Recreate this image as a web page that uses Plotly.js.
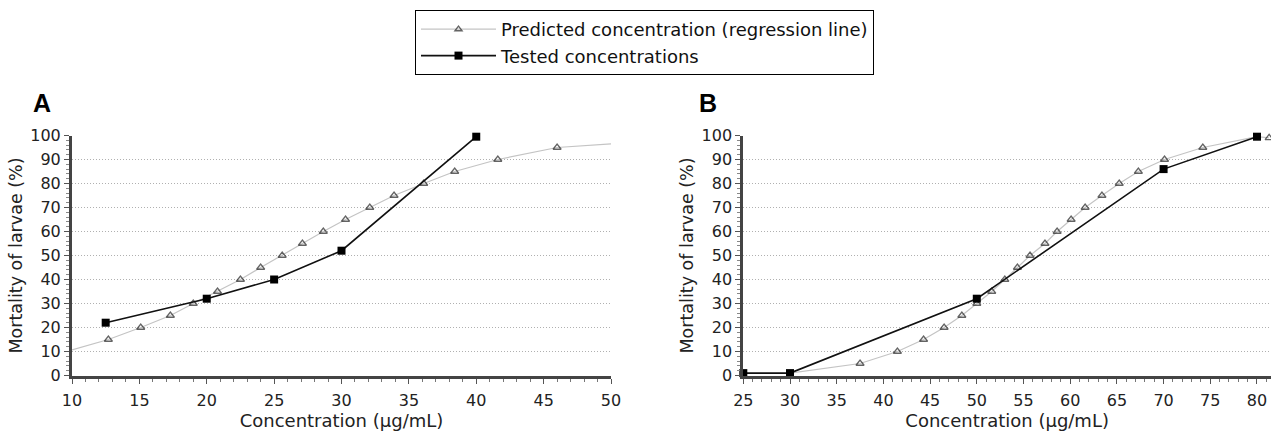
<!DOCTYPE html>
<html>
<head>
<meta charset="utf-8">
<script src="https://cdn.plot.ly/plotly-3.0.1.min.js"></script>
<style>html,body{margin:0;padding:0;background:#fff;}#chart{width:1271px;height:431px;}</style>
</head>
<body>
<div id="chart"></div>
<script>
// Panel A – predicted (regression line)
var predA_x = [10, 12.7, 15.1, 17.3, 19.0, 20.8, 22.5, 24.0, 25.6, 27.1, 28.65, 30.3, 32.1, 33.9, 36.1, 38.4, 41.6, 46.0, 50];
var predA_y = [10.7, 15, 20, 25, 30, 35, 40, 45, 50, 55, 60, 65, 70, 75, 80, 85, 90, 95, 96.5];
var predA_marked = [0, 1, 1, 1, 1, 1, 1, 1, 1, 1, 1, 1, 1, 1, 1, 1, 1, 1, 0];
// Panel A – tested concentrations
var testA_x = [12.5, 20, 25, 30, 40];
var testA_y = [22, 32, 40, 52, 99.5];

// Panel B – predicted (regression line)
var predB_x = [30, 37.5, 41.5, 44.3, 46.5, 48.4, 50.0, 51.6, 53.0, 54.35, 55.7, 57.3, 58.6, 60.1, 61.6, 63.4, 65.25, 67.3, 70.1, 74.2, 80, 81.3];
var predB_y = [1, 5, 10, 15, 20, 25, 30, 35, 40, 45, 50, 55, 60, 65, 70, 75, 80, 85, 90, 95, 99.5, 99];
var predB_marked = [0, 1, 1, 1, 1, 1, 1, 1, 1, 1, 1, 1, 1, 1, 1, 1, 1, 1, 1, 1, 0, 1];
// Panel B – tested concentrations
var testB_x = [25, 30, 50, 70, 80];
var testB_y = [1, 1, 32, 86, 99.5];

var yTicks = [0, 10, 20, 30, 40, 50, 60, 70, 80, 90, 100];
var legendNames = ["Predicted concentration (regression line)", "Tested concentrations"];
var xTitle = "Concentration (μg/mL)";
var yTitle = "Mortality of larvae (%)";

var FONT = "DejaVu Sans, Verdana, sans-serif";

function sizes(arr, s) { return arr.map(function (m) { return m ? s : 0; }); }

function predTrace(x, y, marked, xa, ya, show) {
  return {
    x: x, y: y, xaxis: xa, yaxis: ya, type: "scatter", mode: "lines+markers",
    name: legendNames[0], showlegend: show, cliponaxis: false,
    line: { color: "#c4c4c4", width: 1.2 },
    marker: { symbol: "triangle-up-open", size: sizes(marked, 7), color: "#222", line: { width: 1.3, color: "#222" } }
  };
}
function testTrace(x, y, xa, ya, show) {
  return {
    x: x, y: y, xaxis: xa, yaxis: ya, type: "scatter", mode: "lines+markers",
    name: legendNames[1], showlegend: show, cliponaxis: false,
    line: { color: "#111", width: 1.6 },
    marker: { symbol: "square", size: 8, color: "#000" }
  };
}

var data = [
  predTrace(predA_x, predA_y, predA_marked, "x", "y", true),
  testTrace(testA_x, testA_y, "x", "y", true),
  predTrace(predB_x, predB_y, predB_marked, "x2", "y2", false),
  testTrace(testB_x, testB_y, "x2", "y2", false)
];

var W = 1271, H = 431;
var yDom = [(H - 375.5) / H, (H - 135.5) / H];

function xAxis(dom, range, anchor) {
  return {
    domain: dom, range: range, anchor: anchor,
    dtick: 5, tick0: 0, showgrid: false, zeroline: false,
    showline: true, linecolor: "#444", linewidth: 3,
    ticks: "outside", ticklen: 5, tickwidth: 1, tickcolor: "#555",
    minor: { dtick: 1, ticks: "outside", ticklen: 3, tickcolor: "#777", showgrid: false },
    tickfont: { family: FONT, size: 16, color: "#222" },
    ticklabelstandoff: 3,
    title: { text: xTitle, font: { family: FONT, size: 18, color: "#222" }, standoff: 6 }
  };
}
function yAxis(dom, anchor) {
  return {
    domain: dom, range: [0, 100], anchor: anchor,
    tickvals: yTicks, showgrid: true, gridcolor: "#b0b0b0", griddash: "1px,2px", gridwidth: 1,
    zeroline: false, showline: true, linecolor: "#444", linewidth: 3,
    ticks: "outside", ticklen: 5, tickwidth: 1, tickcolor: "#555",
    minor: { dtick: 2, ticks: "outside", ticklen: 3, tickcolor: "#888", showgrid: false },
    tickfont: { family: FONT, size: 16, color: "#222" },
    title: { text: yTitle, font: { family: FONT, size: 17.5, color: "#222" }, standoff: 4 }
  };
}

var layout = {
  width: W, height: H,
  margin: { l: 0, r: 0, t: 0, b: 0 },
  paper_bgcolor: "#fff", plot_bgcolor: "#fff",
  showlegend: true,
  xaxis: xAxis([72 / W, 611 / W], [10, 50], "y"),
  yaxis: yAxis(yDom, "x"),
  xaxis2: xAxis([743.3 / W, 1], [25, 81.5], "y2"),
  yaxis2: yAxis(yDom, "x2"),
  legend: {
    x: 644.5 / W, xanchor: "center", y: 1 - 10 / H, yanchor: "top",
    bordercolor: "#000", borderwidth: 1, bgcolor: "#fff",
    font: { family: FONT, size: 18, color: "#111" },
    itemwidth: 75, tracegroupgap: 0
  },
  annotations: [
    { text: "<b>A</b>", xref: "paper", yref: "paper", x: 42 / W, y: 1 - 103 / H, xanchor: "center", yanchor: "middle", showarrow: false, font: { family: "Liberation Sans, Arial, sans-serif", size: 25, color: "#000" } },
    { text: "<b>B</b>", xref: "paper", yref: "paper", x: 708 / W, y: 1 - 103 / H, xanchor: "center", yanchor: "middle", showarrow: false, font: { family: "Liberation Sans, Arial, sans-serif", size: 25, color: "#000" } }
  ]
};

Plotly.newPlot("chart", data, layout, { displayModeBar: false, staticPlot: true });
</script>
</body>
</html>
